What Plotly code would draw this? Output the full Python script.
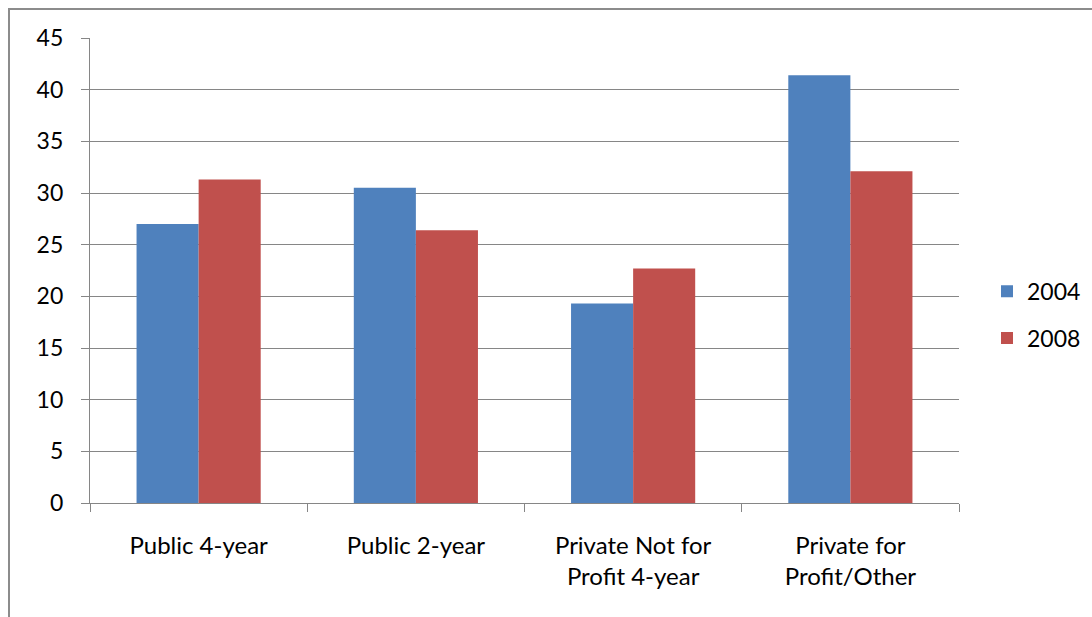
import plotly.graph_objects as go

categories = ["Public 4-year", "Public 2-year", "Private Not for<br>Profit 4-year", "Private for<br>Profit/Other"]
series_names = ["2004", "2008"]
values_2004 = [27.0, 30.5, 19.3, 41.4]
values_2008 = [31.3, 26.4, 22.7, 32.1]
y_ticks = [0, 5, 10, 15, 20, 25, 30, 35, 40, 45]

colors = ["#4F81BD", "#C0504D"]
FONT = "Lato"

fig = go.Figure()
for i, (name, vals) in enumerate(zip(series_names, [values_2004, values_2008])):
    fig.add_trace(go.Bar(
        x=categories, y=vals, name=name, marker_color=colors[i],
        marker_line_width=0, legendgroup=name,
    ))

W, H = 1092, 617
ml, mr, mt, mb = 90, 133, 38, 113.5
pw = W - ml - mr
ph = H - mt - mb

fig.update_layout(
    width=W, height=H,
    margin=dict(l=ml, r=mr, t=mt, b=mb, pad=0, autoexpand=False),
    paper_bgcolor="white", plot_bgcolor="white",
    barmode="group", bargap=1.5 / 3.5, bargroupgap=0,
    font=dict(family=FONT, size=24, color="black"),
    showlegend=True,
    legend=dict(
        x=(987 - ml) / pw, y=(503.5 - 270) / ph, xanchor="left", yanchor="top",
        font=dict(family=FONT, size=23, color="black"),
        traceorder="grouped", tracegroupgap=14,
        itemwidth=30, bgcolor="rgba(0,0,0,0)",
    ),
    xaxis=dict(
        showline=True, linecolor="#868686", linewidth=1.3,
        ticks="outside", ticklen=8, tickcolor="#868686", tickwidth=1.3,
        tickson="boundaries", showgrid=False, ticklabelstandoff=21,
        tickfont=dict(family=FONT, size=24, color="black"),
    ),
    yaxis=dict(
        range=[0, 45], tickvals=y_ticks, showline=True, linecolor="#868686", linewidth=1.3,
        ticks="outside", ticklen=8, tickcolor="#868686", tickwidth=1.3,
        showgrid=True, gridcolor="#868686", gridwidth=1.3, zeroline=False,
        ticklabelstandoff=13,
        tickfont=dict(family=FONT, size=23, color="black"),
    ),
)

fig.add_shape(
    type="rect", xref="paper", yref="paper",
    x0=(9 - ml) / pw, x1=1.3, y0=-0.4, y1=(503.5 - 9) / ph,
    line=dict(color="#8C8C8C", width=2), fillcolor="rgba(0,0,0,0)", layer="below",
)

fig.write_html("out.html")
